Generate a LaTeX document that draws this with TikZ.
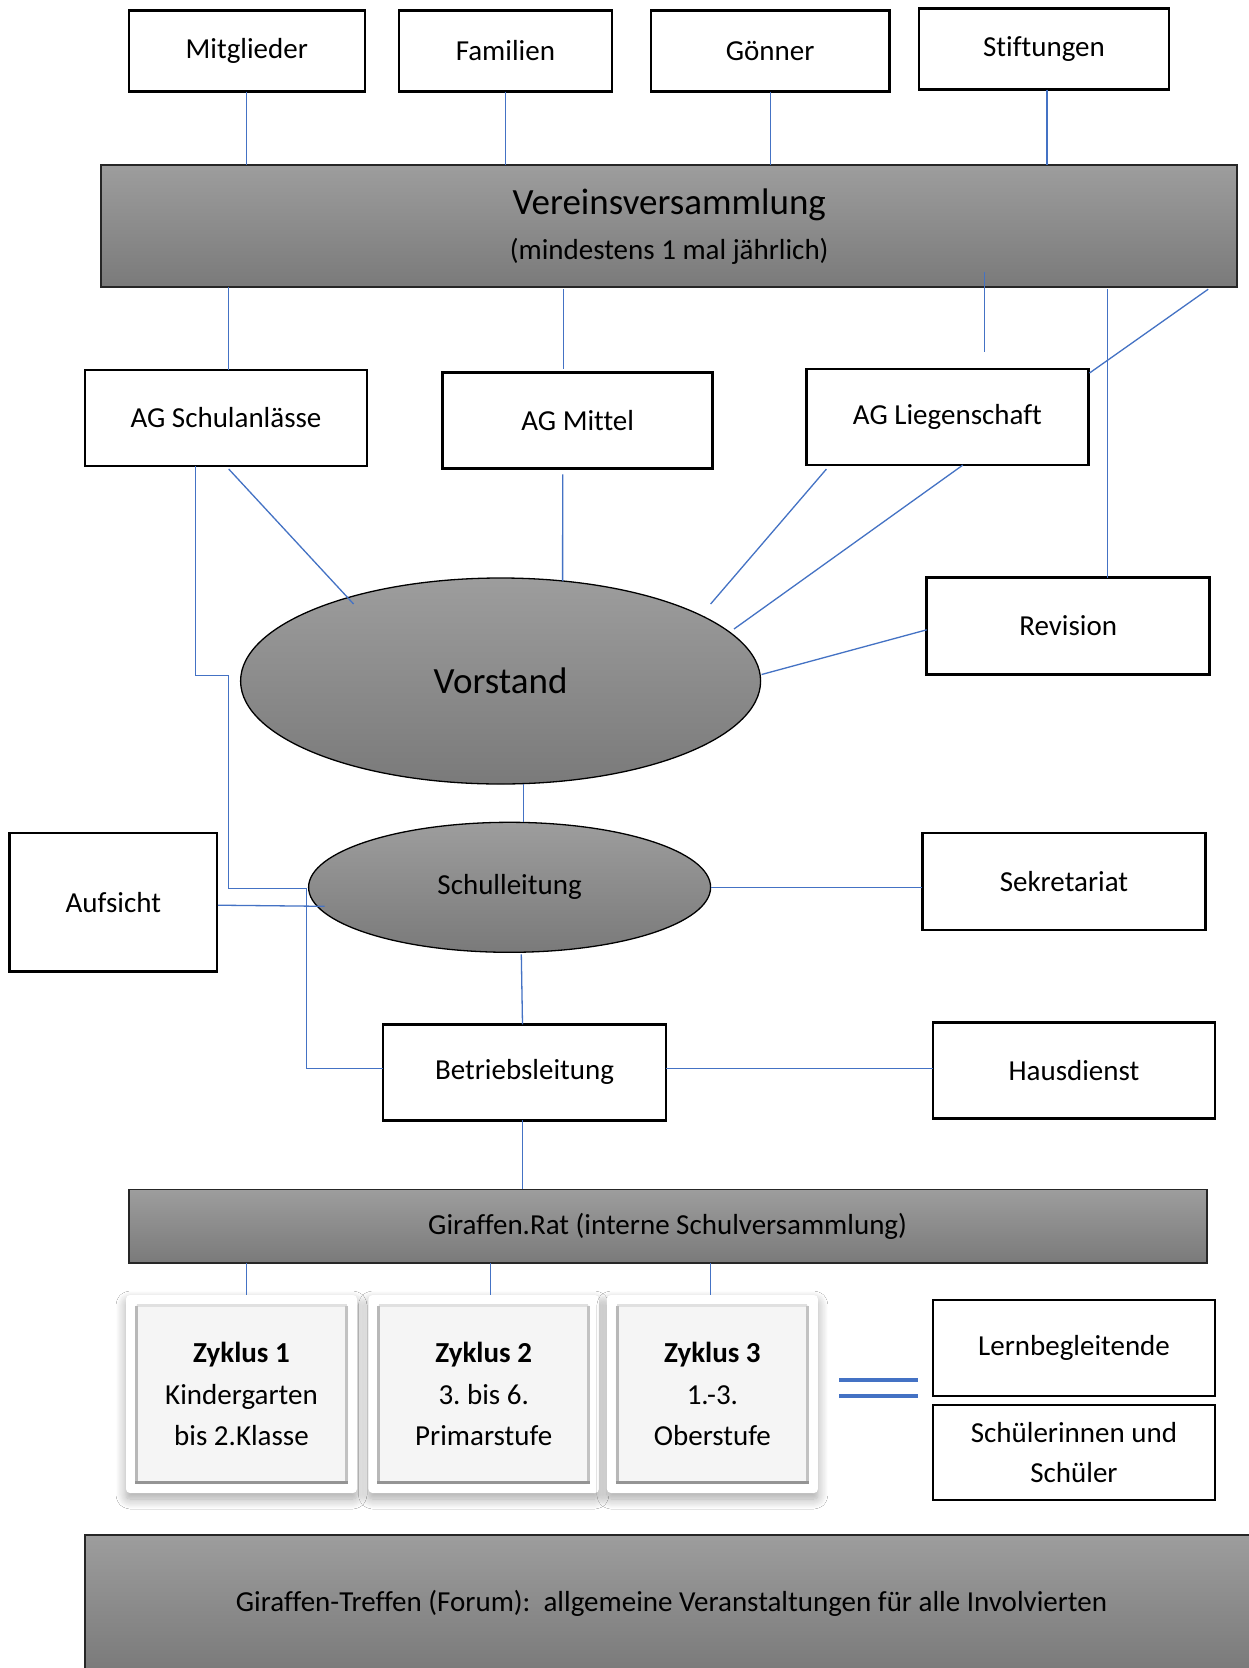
\documentclass[tikz,border=0pt]{standalone}
\usepackage{fontspec}
\setmainfont[Ligatures=NoCommon]{Carlito}
\usetikzlibrary{calc,shapes.geometric,shadows.blur}
\definecolor{lnblue}{HTML}{4472C4}
\definecolor{gtop}{HTML}{9D9D9D}
\definecolor{gbot}{HTML}{7A7A7A}
\frenchspacing
\begin{document}
\begin{tikzpicture}[x=1pt,y=-1pt,
  every node/.style={font=\fontsize{29}{35}\selectfont, inner sep=0pt, outer sep=0pt},
  box/.style={draw=black, line width=2.5pt, fill=white, rectangle},
  conn/.style={draw=lnblue, line width=1.3pt},
  gbar/.style={rectangle, draw=black!85, line width=1.8pt, top color=gtop, bottom color=gbot},
  gell/.style={ellipse, draw=black, line width=1.3pt, top color=gtop, bottom color=gbot},
  zyk/.style={rectangle, fill=white, rounded corners=4pt, minimum height=198pt, align=center,
    font=\fontsize{29}{41.5}\selectfont,
    blur shadow={shadow xshift=0pt, shadow yshift=-6pt, shadow blur radius=10pt, shadow blur steps=10, shadow opacity=35},
    path picture={
      \fill[black!4] ($(path picture bounding box.south west)+(9pt,9pt)$) rectangle ($(path picture bounding box.north east)+(-9pt,-9pt)$);
      \draw[black!12, line width=3pt] ($(path picture bounding box.north west)+(10.5pt,-10.5pt)$) -- ($(path picture bounding box.north east)+(-10.5pt,-10.5pt)$);
      \draw[black!28, line width=3pt] ($(path picture bounding box.south west)+(10.5pt,10.5pt)$) -- ($(path picture bounding box.north west)+(10.5pt,-10.5pt)$);
      \draw[black!24, line width=3pt] ($(path picture bounding box.south east)+(-10.5pt,10.5pt)$) -- ($(path picture bounding box.north east)+(-10.5pt,-10.5pt)$);
      \draw[black!42, line width=3pt] ($(path picture bounding box.south west)+(9pt,10.5pt)$) -- ($(path picture bounding box.south east)+(-9pt,10.5pt)$);
    }}
]
\useasboundingbox (0,0) rectangle (1248,1668);
\fill[white] (0,0) rectangle (1248,1668);

% top row
\node[box, minimum width=236pt, minimum height=81pt] (mitg) at (246.8,51) {Mitglieder};
\node[box, minimum width=212.7pt, minimum height=81pt] (fam) at (505.4,51) {Familien};
\node[box, minimum width=238.4pt, minimum height=81pt] (goen) at (770.2,51) {Gönner};
\node[box, minimum width=250pt, minimum height=81pt] (stift) at (1044,49) {Stiftungen};

% Vereinsversammlung
\node[gbar, minimum width=1136pt, minimum height=122pt, align=center, font=\fontsize{29}{45}\selectfont] (vv) at (669.2,226.2)
  {{\fontsize{37}{45}\selectfont Vereinsversammlung}\\(mindestens 1 mal jährlich)};

% AG row
\node[box, minimum width=282pt, minimum height=96pt] (agS) at (226,418) {AG Schulanlässe};
\node[box, minimum width=270pt, minimum height=96pt] (agM) at (577.7,420.3) {AG Mittel};
\node[box, minimum width=282pt, minimum height=96pt] (agL) at (947.4,417.1) {AG Liegenschaft};
\node[box, minimum width=283pt, minimum height=97pt] (rev) at (1068.2,626.1) {Revision};

% Vorstand / Schulleitung
\node[gell, minimum width=520pt, minimum height=206pt, font=\fontsize{37}{44}\selectfont] (vor) at (500.6,681) {Vorstand};
\node[gell, minimum width=402pt, minimum height=130pt] (sl) at (509.6,887.3) {Schulleitung};
\node[box, minimum width=283pt, minimum height=97pt] (sek) at (1063.9,881.5) {Sekretariat};
\node[box, minimum width=207.4pt, minimum height=138.3pt] (auf) at (113.3,902.2) {Aufsicht};

% Betrieb
\node[box, minimum width=283pt, minimum height=96pt] (bl) at (524.5,1072.4) {Betriebsleitung};
\node[box, minimum width=282pt, minimum height=96pt] (hd) at (1074,1070.3) {Hausdienst};

% Giraffen.Rat
\node[gbar, minimum width=1078pt, minimum height=73.5pt] (gr) at (667.6,1226.2) {Giraffen.Rat (interne Schulversammlung)};

% Zyklus
\node[zyk, minimum width=231pt] (z1) at (241.5,1394) {\textbf{Zyklus 1}\\Kindergarten\\bis 2.Klasse};
\node[zyk, minimum width=230.5pt] (z2) at (483.7,1394) {\textbf{Zyklus 2}\\3. bis 6.\\Primarstufe};
\node[zyk, minimum width=211pt] (z3) at (712.4,1394) {\textbf{Zyklus 3}\\1.-3.\\Oberstufe};

\node[box, minimum width=282pt, minimum height=96pt] (lern) at (1074,1348) {Lernbegleitende};
\node[box, minimum width=282pt, minimum height=95pt, align=center, font=\fontsize{29}{40.6}\selectfont] (sch) at (1074,1452.7) {Schülerinnen und\\Schüler};

% equals sign
\draw[lnblue, line width=4pt] (839.4,1380) -- (918.2,1380) (839.4,1395.8) -- (918.2,1395.8);

% Forum bar
\node[gbar, minimum width=1173pt, minimum height=136pt] (forum) at (671.5,1603) {Giraffen-Treffen (Forum):\ \ allgemeine Veranstaltungen für alle Involvierten};

% connectors top
\draw[conn] (mitg.south) -- (mitg.south |- vv.north);
\draw[conn] (fam.south) -- (fam.south |- vv.north);
\draw[conn] (goen.south) -- (goen.south |- vv.north);
\draw[conn] ($(stift.south)+(3pt,0)$) -- ($(stift.south |- vv.north)+(3pt,0)$);

% vv to AG row
\draw[conn] ($(agS.north |- vv.south)+(2.7pt,0)$) -- ($(agS.north)+(2.7pt,0)$);
\draw[conn] ($(agM.north |- vv.south)+(-14pt,-2pt)$) -- ($(agM.north)+(-14pt,3pt)$);
\draw[conn] ($(agL.north |- vv.south)+(37pt,15pt)$) -- ($(agL.north)+(37pt,17pt)$);
\draw[conn] ($(rev.north |- vv.south)+(39pt,-2pt)$) -- ($(rev.north)+(39pt,0)$);
\draw[conn] ($(vv.south east)+(-29pt,-2pt)$) -- ($(agL.north east)+(1pt,-4pt)$);

% AG to Vorstand
\draw[conn] ($(agS.south)+(2.7pt,-3pt)$) -- ($(vor.center)+(-147pt,77pt)$);
\draw[conn] ($(agM.south)+(-15pt,-6pt)$) -- ($(vor.center)+(62pt,100pt)$);
\draw[conn] ($(agL.south west)+(20pt,-4pt)$) -- ($(vor.center)+(210pt,77pt)$);
\draw[conn] ($(agL.south)+(15.4pt,0)$) -- ($(vor.center)+(233.4pt,52pt)$);
\draw[conn] ($(rev.west)+(0,-3.7pt)$) -- ($(vor.east)+(1pt,6.5pt)$);

% AG Schulanlaesse elbow to Betriebsleitung
\draw[conn] ($(agS.south)+(-30.2pt,0)$) -- ++(0,209.6) -- ++(32.9,0) -- ++(0,212.8) -- ++(77.7,0) |- ($(bl.west)+(0,4pt)$);

% Vorstand to Schulleitung
\coordinate (vs) at ($(vor.south)+(23pt,0)$);
\draw[conn] (vs) -- (vs |- sl.north);
\draw[conn] (sl.east) -- (sl.east -| sek.west);
\draw[conn] ($(auf.east)+(1pt,-3pt)$) -- ($(sl.west)+(16pt,-19pt)$);
\draw[conn] ($(sl.south)+(11.7pt,-2pt)$) -- ($(bl.north)+(-2pt,0)$);

% Betrieb
\coordinate (bh) at ($(bl.east)+(0,4pt)$);
\draw[conn] (bh) -- (bh -| hd.west);
\draw[conn] ($(bl.south)+(-2pt,0)$) -- ($(bl.south |- gr.north)+(-2pt,0)$);

% Giraffen.Rat to Zyklus
\draw[conn] ($(z1.north |- gr.south)+(5.3pt,0)$) -- ($(z1.north)+(5.3pt,0)$);
\draw[conn] ($(z2.north |- gr.south)+(6.8pt,0)$) -- ($(z2.north)+(6.8pt,0)$);
\draw[conn] ($(z3.north |- gr.south)+(-1.7pt,0)$) -- ($(z3.north)+(-1.7pt,0)$);
\end{tikzpicture}
\end{document}
